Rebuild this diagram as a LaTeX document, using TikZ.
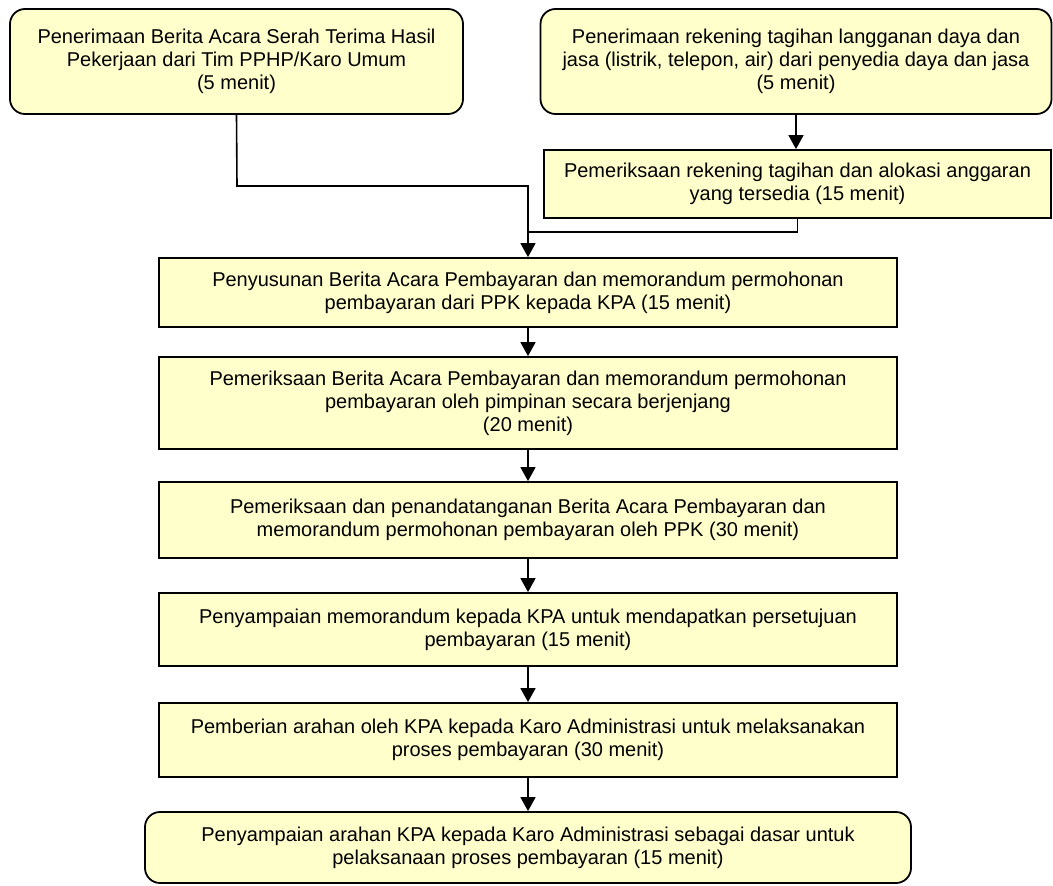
\documentclass[tikz,border=0pt]{standalone}
\usepackage{fontspec}
\setmainfont{Liberation Sans}
\usetikzlibrary{arrows.meta}
\definecolor{boxfill}{HTML}{FFFFCC}
\tikzset{
  box/.style={draw=black, fill=boxfill, line width=1.8pt, align=center, inner sep=0pt,
    font=\fontsize{20}{23}\selectfont},
  rbox/.style={box, rounded corners=15pt},
  conn/.style={line width=1.6pt},
  arr/.style={conn, -{Triangle[length=14pt,width=15pt]}}
}
\begin{document}
\begin{tikzpicture}[x=1pt,y=-1pt]
\useasboundingbox (0,0) rectangle (1053,886);
\node[rbox, minimum width=453pt, minimum height=105pt] (tl) at (236.5,61.5)
  {Penerimaan Berita Acara Serah Terima Hasil\\Pekerjaan dari Tim PPHP/Karo Umum\\(5 menit)};
\node[rbox, minimum width=511pt, minimum height=105pt] (tr) at (796,61.5)
  {Penerimaan rekening tagihan langganan daya dan\\jasa (listrik, telepon, air) dari penyedia daya dan jasa\\(5 menit)};
\node[box, minimum width=507pt, minimum height=68pt] (r2) at (797.5,184)
  {Pemeriksaan rekening tagihan dan alokasi anggaran\\yang tersedia (15 menit)};
\node[box, minimum width=738pt, minimum height=69pt] (b1) at (528,292.5)
  {Penyusunan Berita Acara Pembayaran dan memorandum permohonan\\pembayaran dari PPK kepada KPA (15 menit)};
\node[box, minimum width=738pt, minimum height=92pt] (b2) at (528,403)
  {Pemeriksaan Berita Acara Pembayaran dan memorandum permohonan\\pembayaran oleh pimpinan secara berjenjang\\(20 menit)};
\node[box, minimum width=738pt, minimum height=76pt] (b3) at (528,520)
  {Pemeriksaan dan penandatanganan Berita Acara Pembayaran dan\\memorandum permohonan pembayaran oleh PPK (30 menit)};
\node[box, minimum width=738pt, minimum height=73pt] (b4) at (528,629.5)
  {Penyampaian memorandum kepada KPA untuk mendapatkan persetujuan\\pembayaran (15 menit)};
\node[box, minimum width=738pt, minimum height=74pt] (b5) at (528,740)
  {Pemberian arahan oleh KPA kepada Karo Administrasi untuk melaksanakan\\proses pembayaran (30 menit)};
\node[rbox, minimum width=766pt, minimum height=71pt] (b6) at (528,847.5)
  {Penyampaian arahan KPA kepada Karo Administrasi sebagai dasar untuk\\pelaksanaan proses pembayaran (15 menit)};
\coordinate (j1) at (237,186);
\coordinate (j2) at (528,232);
\draw[arr] (tl.south) -- (j1) -| (b1.north);
\draw[conn] (r2.south) |- (j2);
\draw[arr] (tr.south) -- (tr.south |- r2.north);
\draw[arr] (b1) -- (b2);
\draw[arr] (b2) -- (b3);
\draw[arr] (b3) -- (b4);
\draw[arr] (b4) -- (b5);
\draw[arr] (b5) -- (b6);
\end{tikzpicture}
\end{document}
